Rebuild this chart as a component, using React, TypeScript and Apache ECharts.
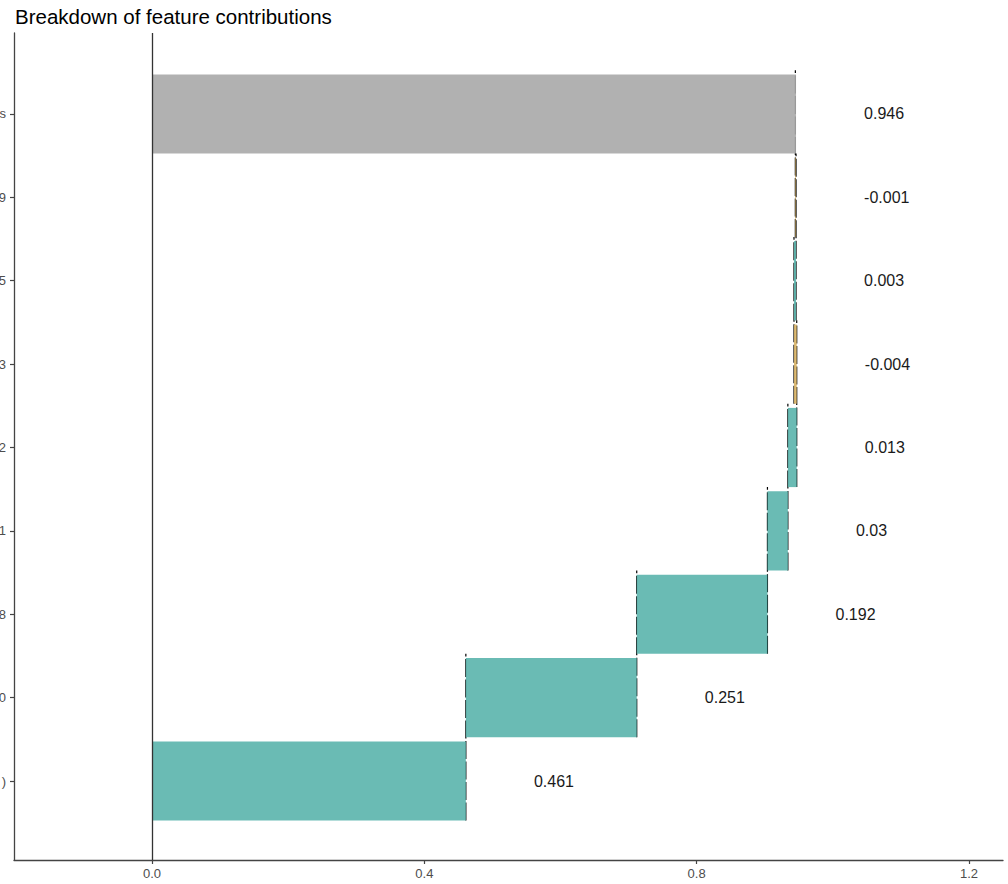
import React, { useEffect, useRef } from "react";
import * as echarts from "echarts";

// Categories from bottom to top (labels are clipped at the left edge in the reference)
const categories = [")", "0", "8", "1", "2", "3", "5", "9", "s"];
const contributions = [0.461, 0.251, 0.192, 0.03, 0.013, -0.004, 0.003, -0.001];
const finalPrognosis = 0.946;
const valueLabels = ["0.461", "0.251", "0.192", "0.03", "0.013", "-0.004", "0.003", "-0.001", "0.946"];
const xTicks = [0, 0.4, 0.8, 1.2];
const xTickLabels = ["0.0", "0.4", "0.8", "1.2"];
const yTicks = [0, 1, 2, 3, 4, 5, 6, 7, 8];

const FILLS = ["#5ab4ac", "#d8b365", "#a9a9a9"]; // positive, negative, total
const FONT = "'Liberation Sans', Arial, sans-serif";

type Row = { i: number; start: number; end: number; kind: number };

function buildRows(): Row[] {
  const rows: Row[] = [];
  let cum = 0;
  contributions.forEach((c, i) => {
    rows.push({ i, start: cum, end: cum + c, kind: c >= 0 ? 0 : 1 });
    cum += c;
  });
  rows.push({ i: contributions.length, start: 0, end: finalPrognosis, kind: 2 });
  return rows;
}

export default function App() {
  const ref = useRef<HTMLDivElement>(null);

  useEffect(() => {
    if (!ref.current) return;
    const chart = echarts.init(ref.current, undefined, { renderer: "svg" });
    const rows = buildRows();

    const barData = rows.map((r) => [r.start, r.end, r.i, r.kind]);
    const connectorData = rows.slice(0, rows.length - 1).map((r) => [r.end, r.i]);
    const labelData = rows.map((r, k) => [Math.max(r.start, r.end) + 0.1, r.i, valueLabels[k]]);

    const option: any = {
      animation: false,
      backgroundColor: "#ffffff",
      title: {
        text: "Breakdown of feature contributions",
        left: 15,
        top: 6,
        padding: 0,
        textStyle: { fontSize: 20.5, fontWeight: "normal", color: "#000000", fontFamily: FONT },
      },
      grid: {
        left: 14,
        right: 5,
        top: 33,
        bottom: 24,
        containLabel: false,
        outerBoundsMode: "none",
      },
      xAxis: {
        type: "value",
        min: -0.2027,
        max: 1.25,
        splitLine: { show: false },
        axisLine: { show: true, onZero: false, lineStyle: { color: "#444444", width: 1.3 } },
        axisTick: { show: true, length: 4, customValues: xTicks, lineStyle: { color: "#444444", width: 1.2 } },
        axisLabel: {
          customValues: xTicks,
          margin: 7,
          color: "#4d4d4d",
          fontSize: 13,
          fontFamily: FONT,
          formatter: (v: number) => {
            const idx = xTicks.findIndex((t) => Math.abs(t - v) < 1e-9);
            return idx >= 0 ? xTickLabels[idx] : "";
          },
        },
      },
      yAxis: {
        type: "value",
        min: -0.9475,
        max: 8.9715,
        splitLine: { show: false },
        axisLine: { show: true, onZero: false, lineStyle: { color: "#444444", width: 1.3 } },
        axisTick: { show: true, length: 4, customValues: yTicks, lineStyle: { color: "#444444", width: 1.2 } },
        axisLabel: {
          customValues: yTicks,
          margin: 8,
          color: "#4d4d4d",
          fontSize: 13,
          fontFamily: FONT,
          formatter: (v: number) => categories[Math.round(v)] ?? "",
        },
      },
      series: [
        {
          type: "custom",
          name: "connectors",
          z: 1,
          encode: { x: 0, y: 1 },
          data: connectorData,
          renderItem: (params: any, api: any) => {
            const x = api.value(0);
            const i = api.value(1);
            const p1 = api.coord([x, i - 0.475]);
            const p2 = api.coord([x, i + 1.525]);
            return {
              type: "line",
              shape: { x1: p1[0], y1: p1[1], x2: p2[0], y2: p2[1] },
              style: { stroke: "#000000", lineWidth: 1.2, lineDash: [18, 2.5] },
            };
          },
          markLine: {
            silent: true,
            symbol: "none",
            label: { show: false },
            lineStyle: { color: "#333333", type: "solid", width: 1.3 },
            data: [{ xAxis: 0 }],
          },
        },
        {
          type: "custom",
          name: "bars",
          z: 2,
          encode: { x: [0, 1], y: 2 },
          data: barData,
          renderItem: (params: any, api: any) => {
            const s = api.value(0);
            const e = api.value(1);
            const i = api.value(2);
            const k = api.value(3);
            const p1 = api.coord([Math.min(s, e), i + 0.475]);
            const p2 = api.coord([Math.max(s, e), i - 0.475]);
            return {
              type: "rect",
              shape: { x: p1[0], y: p1[1], width: p2[0] - p1[0], height: p2[1] - p1[1] },
              style: { fill: FILLS[k], opacity: 0.9 },
            };
          },
        },
        {
          type: "custom",
          name: "labels",
          z: 3,
          encode: { x: 0, y: 1 },
          data: labelData,
          renderItem: (params: any, api: any) => {
            const x = api.value(0);
            const i = api.value(1);
            const p = api.coord([x, i]);
            return {
              type: "text",
              x: p[0],
              y: p[1],
              style: {
                text: valueLabels[params.dataIndex],
                fill: "#1a1a1a",
                fontSize: 16,
                fontFamily: FONT,
                align: "left",
                verticalAlign: "middle",
              },
            };
          },
        },
      ],
    };

    chart.setOption(option);
    return () => {
      chart.dispose();
    };
  }, []);

  return (
    <div
      ref={ref}
      style={{ position: "absolute", left: 0, top: 0, width: 1008, height: 884 }}
    />
  );
}
